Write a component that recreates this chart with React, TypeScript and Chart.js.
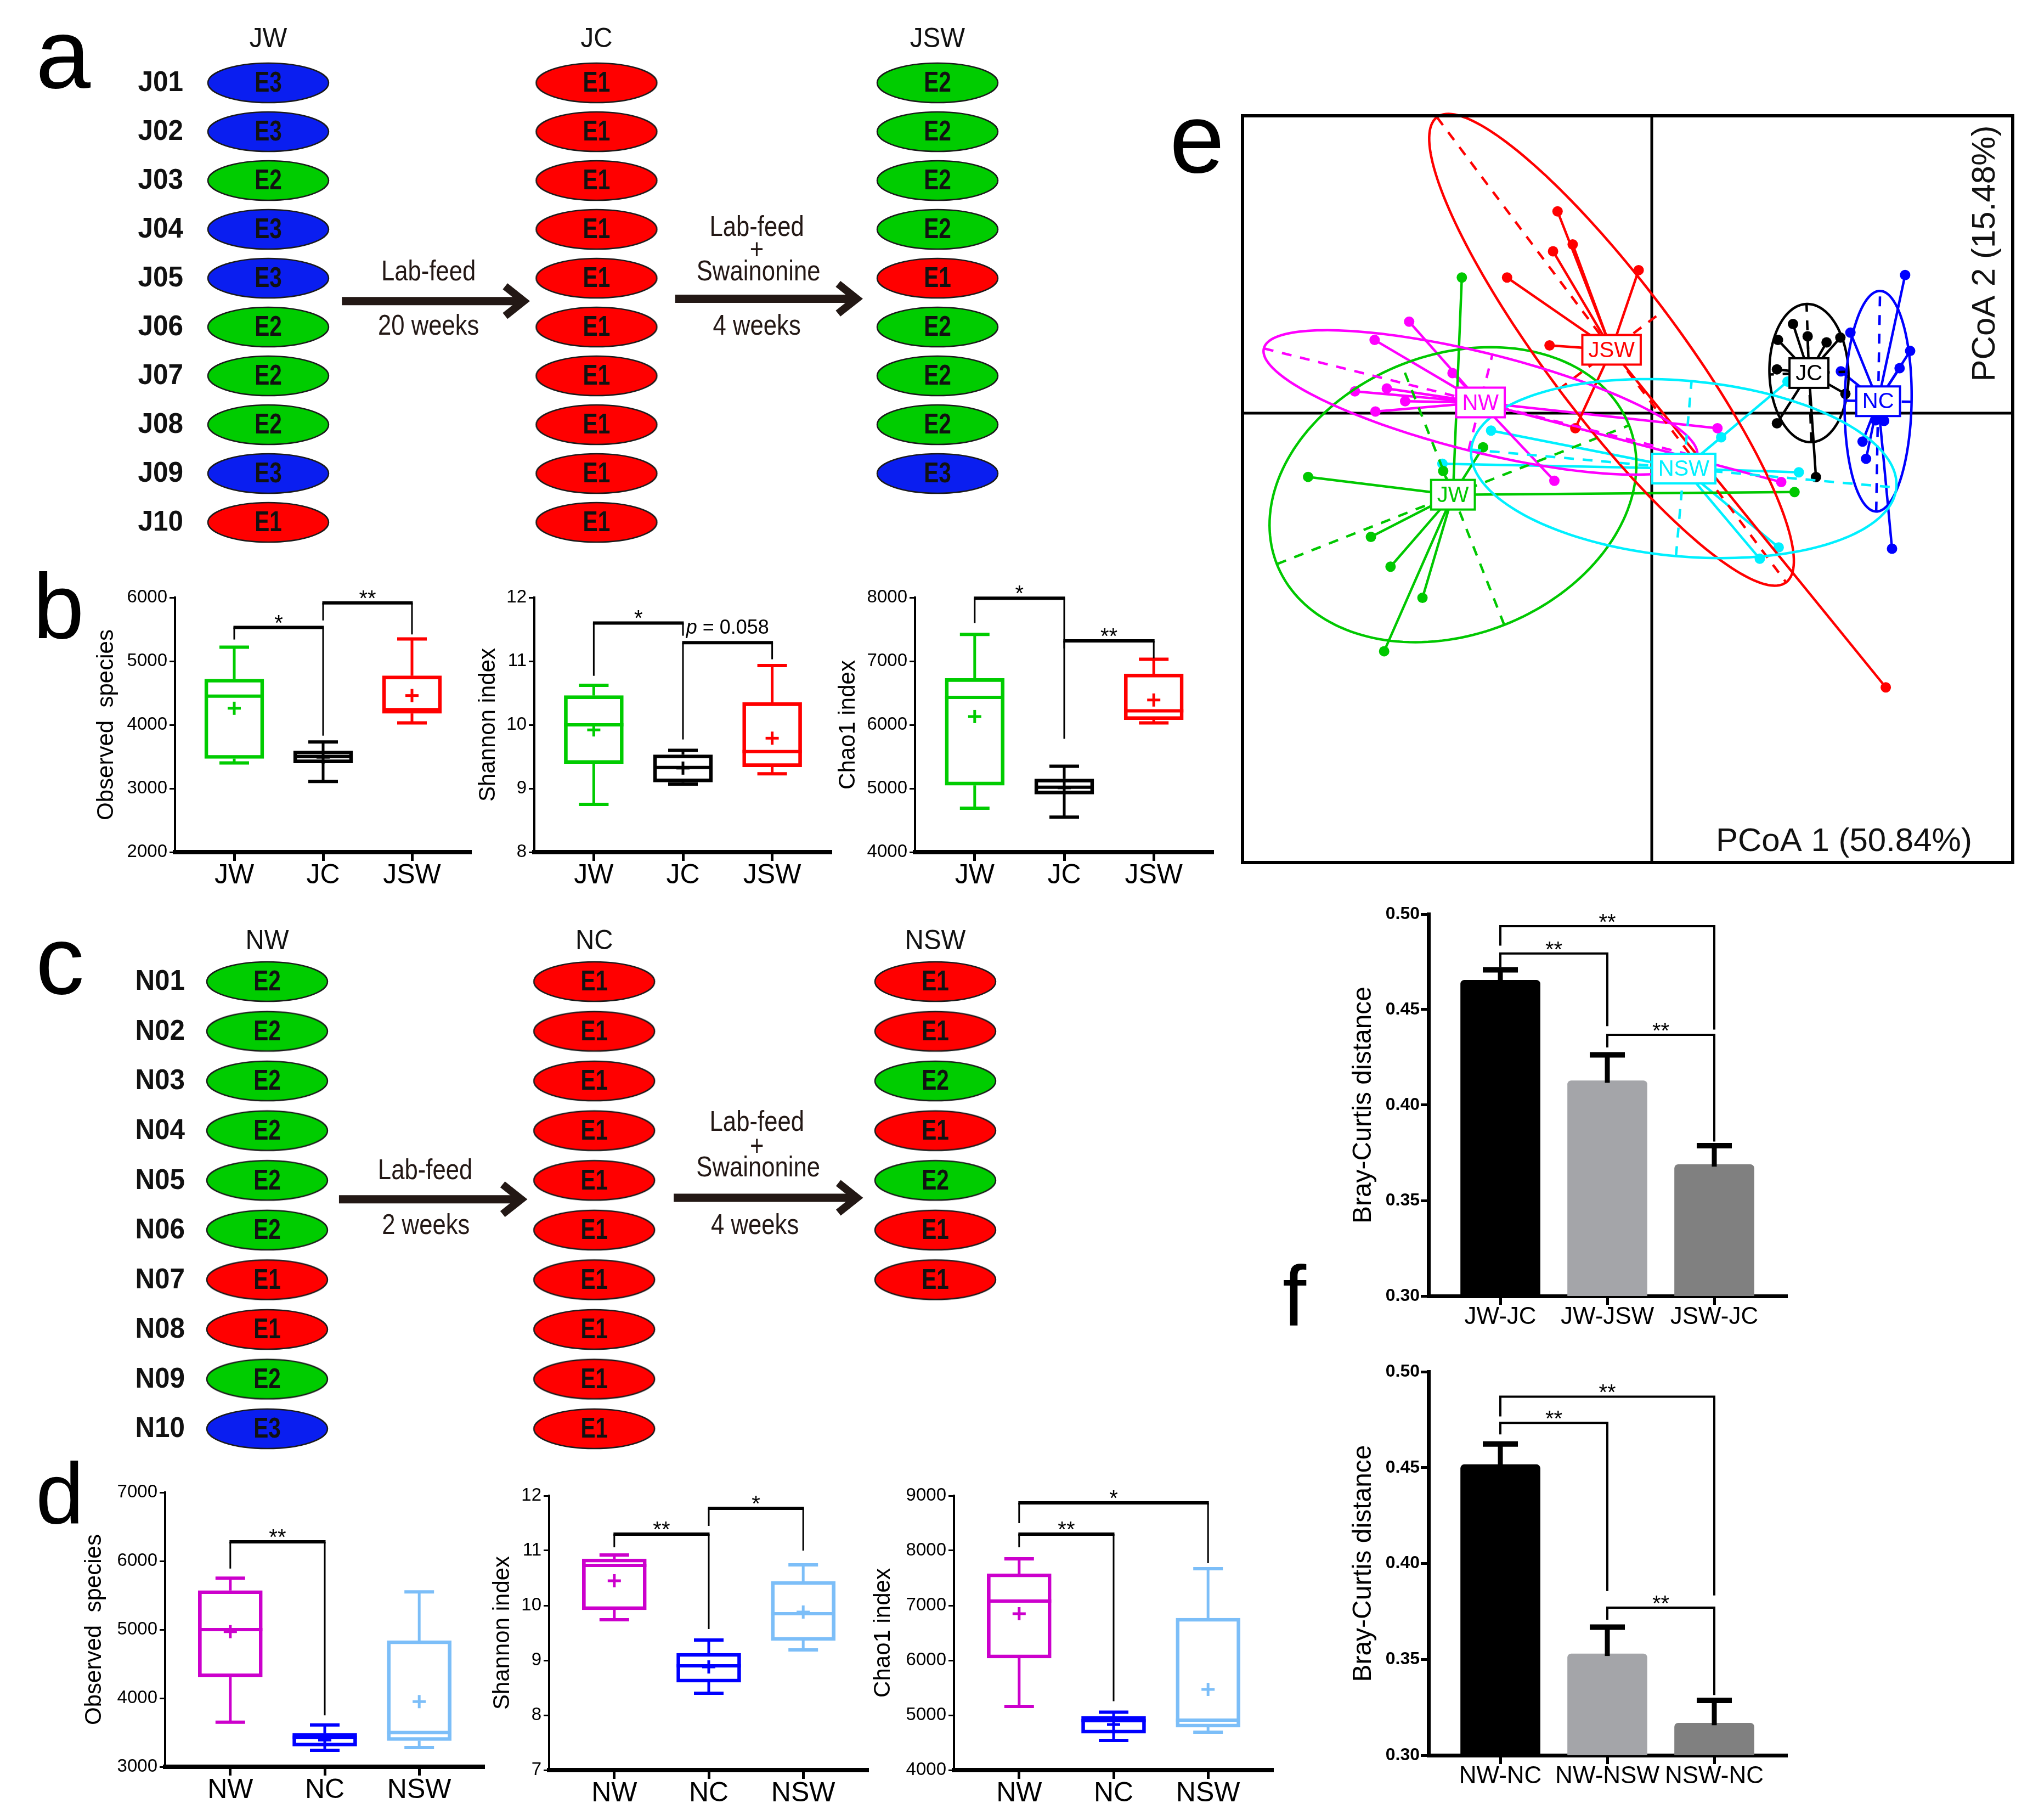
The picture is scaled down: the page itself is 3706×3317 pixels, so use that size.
import React, { useEffect, useRef } from 'react';
import { Chart, registerables } from 'chart.js';

Chart.register(...registerables);

const SANS = "'Liberation Sans', Arial, Helvetica, sans-serif";
const INK = '#231815';
Chart.defaults.font.family = SANS;

// ---------------- Panel a (enterotype diagram, J group) ----------------
const aColumns = ['JW', 'JC', 'JSW'];
const aRows = ['J01', 'J02', 'J03', 'J04', 'J05', 'J06', 'J07', 'J08', 'J09', 'J10'];
const aJW = ['E3', 'E3', 'E2', 'E3', 'E3', 'E2', 'E2', 'E2', 'E3', 'E1'];
const aJC = ['E1', 'E1', 'E1', 'E1', 'E1', 'E1', 'E1', 'E1', 'E1', 'E1'];
const aJSW = ['E2', 'E2', 'E2', 'E2', 'E1', 'E2', 'E2', 'E2', 'E3'];
const aArrowText1 = ['Lab-feed', '20 weeks'];
const aArrowText2 = ['Lab-feed', '+', 'Swainonine', '4 weeks'];

// ---------------- Panel c (enterotype diagram, N group) ----------------
const cColumns = ['NW', 'NC', 'NSW'];
const cRows = ['N01', 'N02', 'N03', 'N04', 'N05', 'N06', 'N07', 'N08', 'N09', 'N10'];
const cNW = ['E2', 'E2', 'E2', 'E2', 'E2', 'E2', 'E1', 'E1', 'E2', 'E3'];
const cNC = ['E1', 'E1', 'E1', 'E1', 'E1', 'E1', 'E1', 'E1', 'E1', 'E1'];
const cNSW = ['E1', 'E1', 'E2', 'E1', 'E2', 'E1', 'E1'];
const cArrowText1 = ['Lab-feed', '2 weeks'];
const cArrowText2 = ['Lab-feed', '+', 'Swainonine', '4 weeks'];

// ---------------- Panel b (box plots) ----------------
// each row: [lower whisker, Q1, median, Q3, upper whisker, mean]
const bGroups = ['JW', 'JC', 'JSW'];
const bObserved = [[3400, 3470, 4450, 4720, 5220, 4260], [3110, 3400, 3500, 3590, 3730, 3490], [4030, 4180, 4240, 4770, 5350, 4460]];
const bShannon = [[8.75, 9.39, 10.0, 10.46, 10.62, 9.92], [9.07, 9.10, 9.33, 9.53, 9.60, 9.32], [9.23, 9.34, 9.58, 10.35, 10.93, 9.79]];
const bChao1 = [[4690, 5050, 6430, 6730, 7420, 6130], [4550, 4910, 5020, 5150, 5350, 5010], [6030, 6080, 6220, 6800, 7030, 6390]];
const bObservedTicks = [2000, 3000, 4000, 5000, 6000];
const bShannonTicks = [8, 9, 10, 11, 12];
const bChao1Ticks = [4000, 5000, 6000, 7000, 8000];
// [group i, group j, bracket level, leg end i, leg end j, label]
const bObservedSig = [[0, 1, 5530, 5340, 3830, '*'], [1, 2, 5915, 5640, 5420, '**']];
const bShannonSig = [[0, 1, 11.60, 10.77, 11.40, '*'], [1, 2, 11.29, 9.77, 11.03, '']];
const bChao1Sig = [[0, 1, 7990, 7600, 5780, '*'], [1, 2, 7320, 7200, 7045, '**']];

// ---------------- Panel d (box plots) ----------------
const dGroups = ['NW', 'NC', 'NSW'];
const dObserved = [[3650, 4310, 5000, 5570, 5750, 4970], [3240, 3300, 3430, 3490, 3610, 3390], [3280, 3380, 3500, 4840, 5550, 3950]];
const dShannon = [[9.74, 9.92, 10.73, 10.85, 10.92, 10.45], [8.40, 8.60, 8.90, 9.13, 9.37, 8.88], [9.19, 9.36, 9.85, 10.44, 10.74, 9.88]];
const dChao1 = [[5160, 6040, 7080, 7580, 7850, 6850], [4540, 4670, 4900, 4980, 5055, 4830], [4690, 4780, 4910, 6770, 7670, 5470]];
const dObservedTicks = [3000, 4000, 5000, 6000, 7000];
const dShannonTicks = [7, 8, 9, 10, 11, 12];
const dChao1Ticks = [4000, 5000, 6000, 7000, 8000, 9000];
const dObservedSig = [[0, 1, 6280, 5890, 3750, '**']];
const dShannonSig = [[0, 1, 11.30, 11.06, 9.57, '**'], [1, 2, 11.77, 11.45, 11.00, '*']];
const dChao1Sig = [[0, 1, 8300, 8060, 5255, '**'], [0, 2, 8870, 8500, 7770, '*']];

// ---------------- Panel e (PCoA) ----------------
const eGroupNames = ['JW', 'JC', 'JSW', 'NW', 'NC', 'NSW'];
const ePtsJW = [[-0.2611, 0.1864], [-0.2319, -0.0469], [-0.2867, -0.0796], [-0.4724, -0.0876], [-0.3861, -0.1701], [-0.3591, -0.2109], [-0.3152, -0.2538], [-0.3679, -0.3272], [0.1963, -0.1084]];
const ePtsJC = [[0.1942, 0.1225], [0.2143, 0.1056], [0.1735, 0.1006], [0.2403, 0.0972], [0.2593, 0.1039], [0.1721, 0.0602], [0.1721, -0.0139], [0.2257, -0.0879], [0.2662, 0.0265]];
const ePtsJSW = [[-0.1295, 0.2773], [-0.1087, 0.2319], [-0.1357, 0.2225], [-0.1989, 0.1864], [-0.0180, 0.1965], [-0.1405, 0.0931], [-0.1051, -0.0207], [0.3217, -0.3768]];
const ePtsNW = [[-0.3335, 0.1258], [-0.3810, 0.1006], [-0.2739, 0.0551], [-0.4081, 0.0299], [-0.3642, 0.0339], [-0.3390, 0.0164], [-0.3799, 0.0023], [-0.1339, -0.0930], [0.0903, -0.0207], [0.1780, -0.0947]];
const ePtsNC = [[0.3483, 0.1898], [0.2731, 0.1106], [0.3552, 0.0855], [0.3407, 0.0618], [0.2600, 0.0575], [0.3195, -0.0106], [0.3078, -0.0098], [0.2898, -0.0391], [0.2946, -0.0627], [0.3303, -0.1863]];
const ePtsNSW = [[-0.2209, -0.0240], [-0.2878, -0.0695], [0.0954, -0.0332], [0.1866, 0.0434], [0.2022, -0.0812], [0.1745, -0.1845], [0.1485, -0.2001]];
const ePoints = [ePtsJW, ePtsJC, ePtsJSW, ePtsNW, ePtsNC, ePtsNSW];
const eCentroids = [[-0.2733, -0.1121], [0.2161, 0.0551], [-0.0553, 0.0871], [-0.2355, 0.0147], [0.3112, 0.0164], [0.0440, -0.0762]];
// [semi-major, semi-minor, angle in degrees]
const eEllipses = [[0.2602, 0.1923, 21.5], [0.0950, 0.0543, 92], [0.3997, 0.0905, -53.1], [0.3069, 0.0679, -14], [0.1516, 0.0460, 89], [0.2934, 0.1207, -5.1]];
const eAxisTitles = ['PCoA 1 (50.84%)', 'PCoA 2 (15.48%)'];

// ---------------- Panel f (bar charts) ----------------
const fTopLabels = ['JW-JC', 'JW-JSW', 'JSW-JC'];
const fTopMeans = [0.4654, 0.4128, 0.3689];
const fTopSem = [0.0054, 0.0135, 0.0098];
const fTopSig = [[0, 2, 0.4937, 0.4835, 0.4395, '**'], [0, 1, 0.4794, 0.4723, 0.4413, '**'], [1, 2, 0.4368, 0.4302, 0.3809, '**']];
const fBotLabels = ['NW-NC', 'NW-NSW', 'NSW-NC'];
const fBotMeans = [0.4516, 0.3529, 0.3168];
const fBotSem = [0.0107, 0.0139, 0.0118];
const fBotSig = [[0, 2, 0.4870, 0.4767, 0.3833, '**'], [0, 1, 0.4733, 0.4673, 0.3856, '**'], [1, 2, 0.3770, 0.3707, 0.3314, '**']];
const fTicks = [0.30, 0.35, 0.40, 0.45, 0.50];

// ---------------- styles ----------------
const typeColors: Record<string, string> = { E1: '#ff0000', E2: '#00cc00', E3: '#0a1ef0' };
const bColors = ['#00cc00', '#000000', '#ff0000'];
const dColors = ['#cc00cc', '#0000ff', '#7cbef8'];
const eColors = ['#00c800', '#000000', '#ff0000', '#ff00ff', '#0000ff', '#00f0ff'];
const fColors = ['#000000', '#a4a5a9', '#808080'];

function ellipseImage(fill: string): HTMLCanvasElement {
  const c = document.createElement('canvas');
  c.width = 226;
  c.height = 78;
  const g = c.getContext('2d')!;
  g.beginPath();
  g.ellipse(113, 39, 110, 36, 0, 0, Math.PI * 2);
  g.fillStyle = fill;
  g.fill();
  g.lineWidth = 2.5;
  g.strokeStyle = '#1a1a1a';
  g.stroke();
  return c;
}

function seg(ctx: CanvasRenderingContext2D, x1: number, y1: number, x2: number, y2: number) {
  ctx.beginPath();
  ctx.moveTo(x1, y1);
  ctx.lineTo(x2, y2);
  ctx.stroke();
}

function fillCondensed(ctx: CanvasRenderingContext2D, text: string, x: number, y: number, sx: number) {
  ctx.save();
  ctx.translate(x, y);
  ctx.scale(sx, 1);
  ctx.fillText(text, 0, 0);
  ctx.restore();
}

function drawLetter(ctx: CanvasRenderingContext2D, letter: any[]) {
  if (!letter) return;
  ctx.save();
  ctx.font = `${letter[3]}px ${SANS}`;
  ctx.fillStyle = '#000';
  ctx.textAlign = 'left';
  ctx.textBaseline = 'alphabetic';
  ctx.fillText(letter[0], letter[1], letter[2]);
  ctx.restore();
}

function diagramConfig(o: any) {
  const imgs: Record<string, HTMLCanvasElement> = {
    E1: ellipseImage(typeColors.E1),
    E2: ellipseImage(typeColors.E2),
    E3: ellipseImage(typeColors.E3),
  };
  return {
    type: 'scatter',
    data: {
      datasets: o.cols.map((col: string[], ci: number) => ({
        data: col.map((_: string, r: number) => ({ x: o.colPos[ci], y: r })),
        pointStyle: col.map((e: string) => imgs[e]),
        pointRadius: 30,
        clip: false,
      })),
    },
    options: {
      responsive: false,
      animation: false,
      devicePixelRatio: 1,
      events: [],
      layout: { autoPadding: false, padding: { left: o.L, top: o.T, right: o.cw - o.R, bottom: o.ch - o.B } },
      plugins: { legend: { display: false }, tooltip: { enabled: false } },
      scales: {
        x: { type: 'linear', min: 0, max: o.columns.length - 1, display: false },
        y: { type: 'linear', reverse: true, min: 0, max: o.rows.length - 1, display: false },
      },
    },
    plugins: [{
      id: 'diagramExtras',
      afterDatasetsDraw(chart: any) {
        const ctx: CanvasRenderingContext2D = chart.ctx;
        const xs = chart.scales.x;
        const ys = chart.scales.y;
        ctx.save();
        ctx.textBaseline = 'middle';
        // column headers
        ctx.fillStyle = '#111';
        ctx.textAlign = 'center';
        ctx.font = `50px ${SANS}`;
        o.columns.forEach((c: string, i: number) => fillCondensed(ctx, c, xs.getPixelForValue(o.colPos[i]), o.headerY, 0.95));
        // row labels
        ctx.textAlign = 'right';
        ctx.font = `bold 52px ${SANS}`;
        o.rows.forEach((r: string, i: number) => fillCondensed(ctx, r, o.rowRight, ys.getPixelForValue(i) + 1, 0.95));
        // type labels inside ellipses
        ctx.textAlign = 'center';
        ctx.font = `bold 52px ${SANS}`;
        o.cols.forEach((col: string[], ci: number) => {
          const meta = chart.getDatasetMeta(ci);
          col.forEach((e: string, r: number) => {
            const el = meta.data[r];
            fillCondensed(ctx, e, el.x, el.y + 2, 0.78);
          });
        });
        // arrows
        ctx.strokeStyle = INK;
        ctx.fillStyle = INK;
        o.arrows.forEach((a: number[]) => {
          const x1 = xs.getPixelForValue(a[0]);
          const x2 = xs.getPixelForValue(a[1]);
          const y = ys.getPixelForValue(a[2]);
          ctx.lineCap = 'butt';
          ctx.lineWidth = 15;
          seg(ctx, x1, y, x2 - 12, y);
          ctx.lineWidth = 14;
          ctx.lineJoin = 'miter';
          ctx.beginPath();
          ctx.moveTo(x2 - 44, y - 27);
          ctx.lineTo(x2 - 10, y);
          ctx.lineTo(x2 - 44, y + 27);
          ctx.stroke();
        });
        ctx.font = `52px ${SANS}`;
        o.texts.forEach((t: any[]) => {
          fillCondensed(ctx, t[0], xs.getPixelForValue(t[1]), ys.getPixelForValue(t[2]), 0.84);
        });
        ctx.restore();
        drawLetter(ctx, o.letter);
      },
    }],
  };
}

function boxConfig(o: any) {
  const tfs = 42;
  return {
    type: 'bar',
    data: {
      datasets: [{
        data: o.stats.map((s: number[], i: number) => ({ x: i + 1, y: [s[1], s[3]] })),
        backgroundColor: 'rgba(255,255,255,0)',
        borderColor: o.colors,
        borderWidth: 6,
        borderSkipped: false,
        barThickness: o.boxW,
      }],
    },
    options: {
      responsive: false,
      animation: false,
      devicePixelRatio: 1,
      events: [],
      layout: { autoPadding: false, padding: { left: 0, top: o.T, right: o.cw - o.R, bottom: 0 } },
      plugins: { legend: { display: false }, tooltip: { enabled: false } },
      scales: {
        x: {
          type: 'linear', offset: false, min: o.xMin, max: o.xMax,
          afterBuildTicks: (ax: any) => { ax.ticks = o.cats.map((_: string, i: number) => ({ value: i + 1 })); },
          afterFit: (s: any) => { s.height = o.ch - o.B; },
          ticks: { autoSkip: false, maxRotation: 0, padding: -3, color: '#000', font: { family: SANS, size: 50 }, callback: (v: number) => o.cats[Math.round(v) - 1] },
          grid: { offset: false, drawOnChartArea: false, tickLength: 16, tickWidth: 5, tickColor: '#000' },
          border: { display: true, color: '#000', width: 8 },
        },
        y: {
          type: 'linear', min: o.yMin, max: o.yMax,
          afterBuildTicks: (ax: any) => { ax.ticks = o.yTicks.map((v: number) => ({ value: v })); },
          afterFit: (s: any) => { s.width = o.L; },
          ticks: { padding: 4, color: '#000', font: { family: SANS, size: 33 }, callback: (v: number) => String(v) },
          grid: { drawOnChartArea: false, tickLength: 10, tickWidth: 3, tickColor: '#000' },
          border: { display: true, color: '#000', width: 4 },
          title: { display: true, text: o.title, color: '#000', font: { family: SANS, size: tfs }, padding: { top: o.titleCenter - tfs * 0.6, bottom: 0 } },
        },
      },
    },
    plugins: [{
      id: 'boxExtras',
      afterDatasetsDraw(chart: any) {
        const ctx: CanvasRenderingContext2D = chart.ctx;
        const xs = chart.scales.x;
        const ys = chart.scales.y;
        const X = (v: number) => xs.getPixelForValue(v);
        const Y = (v: number) => ys.getPixelForValue(v);
        ctx.save();
        ctx.lineCap = 'butt';
        o.stats.forEach((s: number[], i: number) => {
          const x = X(i + 1);
          ctx.strokeStyle = o.colors[i];
          ctx.lineWidth = 5;
          seg(ctx, x, Y(s[3]), x, Y(s[4]));
          seg(ctx, x, Y(s[1]), x, Y(s[0]));
          ctx.lineWidth = 6;
          seg(ctx, x - 27, Y(s[4]), x + 27, Y(s[4]));
          seg(ctx, x - 27, Y(s[0]), x + 27, Y(s[0]));
          seg(ctx, x - o.boxW / 2, Y(s[2]), x + o.boxW / 2, Y(s[2]));
          ctx.lineWidth = 5;
          const m = Y(s[5]);
          seg(ctx, x - 12, m, x + 12, m);
          seg(ctx, x, m - 12, x, m + 12);
        });
        ctx.strokeStyle = '#000';
        ctx.fillStyle = '#000';
        ctx.textAlign = 'center';
        ctx.textBaseline = 'alphabetic';
        o.sig.forEach((b: any[]) => {
          const xi = X(b[0] + 1);
          const xj = X(b[1] + 1);
          const yb = Y(b[2]);
          ctx.lineWidth = 3;
          seg(ctx, xi, yb, xi, Y(b[3]));
          seg(ctx, xj, yb, xj, Y(b[4]));
          ctx.lineWidth = 6;
          seg(ctx, xi - 1.5, yb, xj + 1.5, yb);
          if (b[5]) {
            ctx.font = `40px ${SANS}`;
            ctx.fillText(b[5], (xi + xj) / 2, yb + 5);
          }
        });
        if (o.note) {
          const n = o.note;
          ctx.font = `italic 36px ${SANS}`;
          const w1 = ctx.measureText(n.italic).width;
          ctx.font = `36px ${SANS}`;
          const w2 = ctx.measureText(n.text).width;
          const cx = X(n.x);
          const by = Y(n.y) - 16;
          ctx.textAlign = 'left';
          ctx.font = `italic 36px ${SANS}`;
          ctx.fillText(n.italic, cx - (w1 + w2) / 2, by);
          ctx.font = `36px ${SANS}`;
          ctx.fillText(n.text, cx - (w1 + w2) / 2 + w1, by);
        }
        ctx.restore();
        drawLetter(ctx, o.letter);
      },
    }],
  };
}

function pcoaConfig(o: any) {
  return {
    type: 'scatter',
    data: {
      datasets: eGroupNames.map((g, gi) => {
        const c = eCentroids[gi];
        const data: any[] = [];
        ePoints[gi].forEach((p) => {
          data.push({ x: c[0], y: c[1] });
          data.push({ x: p[0], y: p[1] });
        });
        return {
          label: g,
          data,
          showLine: true,
          borderColor: eColors[gi],
          borderWidth: 4.5,
          borderJoinStyle: 'round',
          pointRadius: data.map((_: any, k: number) => (k % 2 ? 9.5 : 0)),
          pointBackgroundColor: eColors[gi],
          pointBorderWidth: 0,
        };
      }),
    },
    options: {
      responsive: false,
      animation: false,
      devicePixelRatio: 1,
      events: [],
      layout: { autoPadding: false, padding: { left: o.L, top: o.T, right: o.cw - o.R, bottom: o.ch - o.B } },
      plugins: { legend: { display: false }, tooltip: { enabled: false } },
      scales: {
        x: { type: 'linear', min: -0.5626, max: 0.4962, display: false },
        y: { type: 'linear', min: -0.6176, max: 0.4087, display: false },
      },
    },
    plugins: [{
      id: 'pcoaExtras',
      beforeDatasetsDraw(chart: any) {
        const ctx: CanvasRenderingContext2D = chart.ctx;
        const a = chart.chartArea;
        const x0 = chart.scales.x.getPixelForValue(0);
        const y0 = chart.scales.y.getPixelForValue(0);
        ctx.save();
        ctx.strokeStyle = '#000';
        ctx.lineWidth = 5;
        seg(ctx, x0, a.top, x0, a.bottom);
        seg(ctx, a.left, y0, a.right, y0);
        ctx.restore();
      },
      afterDatasetsDraw(chart: any) {
        const ctx: CanvasRenderingContext2D = chart.ctx;
        const xs = chart.scales.x;
        const ys = chart.scales.y;
        const a = chart.chartArea;
        ctx.save();
        ctx.lineWidth = 4.5;
        eGroupNames.forEach((_, gi) => {
          const [ea, eb, ang] = eEllipses[gi];
          const th = (ang * Math.PI) / 180;
          const [cx, cy] = eCentroids[gi];
          const P = (u: number, v: number) => [
            xs.getPixelForValue(cx + u * Math.cos(th) - v * Math.sin(th)),
            ys.getPixelForValue(cy + u * Math.sin(th) + v * Math.cos(th)),
          ];
          ctx.strokeStyle = eColors[gi];
          ctx.setLineDash([]);
          ctx.beginPath();
          for (let k = 0; k <= 180; k++) {
            const t = (k / 180) * Math.PI * 2;
            const [px, py] = P(ea * Math.cos(t), eb * Math.sin(t));
            if (k === 0) ctx.moveTo(px, py); else ctx.lineTo(px, py);
          }
          ctx.closePath();
          ctx.stroke();
          ctx.setLineDash([18, 16]);
          let p1 = P(-ea, 0), p2 = P(ea, 0);
          seg(ctx, p1[0], p1[1], p2[0], p2[1]);
          p1 = P(0, -eb); p2 = P(0, eb);
          seg(ctx, p1[0], p1[1], p2[0], p2[1]);
          ctx.setLineDash([]);
        });
        ctx.font = `40px ${SANS}`;
        ctx.textAlign = 'center';
        ctx.textBaseline = 'middle';
        eGroupNames.forEach((g, gi) => {
          const px = xs.getPixelForValue(eCentroids[gi][0]);
          const py = ys.getPixelForValue(eCentroids[gi][1]);
          const w = ctx.measureText(g).width + 22;
          const h = 54;
          ctx.fillStyle = '#fff';
          ctx.fillRect(px - w / 2, py - h / 2, w, h);
          ctx.strokeStyle = eColors[gi];
          ctx.lineWidth = 4;
          ctx.strokeRect(px - w / 2, py - h / 2, w, h);
          ctx.fillStyle = eColors[gi];
          ctx.fillText(g, px, py + 2);
        });
        ctx.strokeStyle = '#000';
        ctx.lineWidth = 6;
        ctx.strokeRect(a.left, a.top, a.right - a.left, a.bottom - a.top);
        ctx.fillStyle = '#111';
        ctx.font = `60px ${SANS}`;
        ctx.textAlign = 'left';
        ctx.textBaseline = 'alphabetic';
        ctx.fillText(eAxisTitles[0], o.t1x, o.t1y);
        ctx.translate(o.t2x, o.t2y);
        ctx.rotate(-Math.PI / 2);
        ctx.textAlign = 'center';
        ctx.fillText(eAxisTitles[1], 0, 0);
        ctx.restore();
        drawLetter(ctx, o.letter);
      },
    }],
  };
}

function barConfig(o: any) {
  const tfs = 48;
  return {
    type: 'bar',
    data: {
      datasets: [{
        data: o.means.map((m: number, i: number) => ({ x: i + 1, y: m })),
        backgroundColor: fColors,
        borderWidth: 0,
        borderRadius: { topLeft: 7, topRight: 7, bottomLeft: 0, bottomRight: 0 },
        borderSkipped: false,
        barThickness: 145,
      }],
    },
    options: {
      responsive: false,
      animation: false,
      devicePixelRatio: 1,
      events: [],
      layout: { autoPadding: false, padding: { left: 0, top: o.T, right: o.cw - o.R, bottom: 0 } },
      plugins: { legend: { display: false }, tooltip: { enabled: false } },
      scales: {
        x: {
          type: 'linear', offset: false, min: 0.328, max: 3.682,
          afterBuildTicks: (ax: any) => { ax.ticks = o.labels.map((_: string, i: number) => ({ value: i + 1 })); },
          afterFit: (s: any) => { s.height = o.ch - o.B; },
          ticks: { autoSkip: false, maxRotation: 0, padding: -4, color: '#000', font: { family: SANS, size: 44 }, callback: (v: number) => o.labels[Math.round(v) - 1] },
          grid: { offset: false, drawOnChartArea: false, tickLength: 16, tickWidth: 5, tickColor: '#000' },
          border: { display: true, color: '#000', width: 7 },
        },
        y: {
          type: 'linear', min: 0.3, max: 0.5,
          afterBuildTicks: (ax: any) => { ax.ticks = fTicks.map((v: number) => ({ value: v })); },
          afterFit: (s: any) => { s.width = o.L; },
          ticks: { padding: 2, color: '#000', font: { family: SANS, size: 32, weight: 'bold' }, callback: (v: number) => v.toFixed(2) },
          grid: { drawOnChartArea: false, tickLength: 14, tickWidth: 5, tickColor: '#000' },
          border: { display: true, color: '#000', width: 7 },
          title: { display: true, text: 'Bray-Curtis distance', color: '#000', font: { family: SANS, size: tfs }, padding: { top: o.titleCenter - tfs * 0.6, bottom: 0 } },
        },
      },
    },
    plugins: [{
      id: 'barExtras',
      afterDatasetsDraw(chart: any) {
        const ctx: CanvasRenderingContext2D = chart.ctx;
        const xs = chart.scales.x;
        const ys = chart.scales.y;
        const X = (v: number) => xs.getPixelForValue(v);
        const Y = (v: number) => ys.getPixelForValue(v);
        ctx.save();
        ctx.strokeStyle = '#000';
        ctx.fillStyle = '#000';
        ctx.lineCap = 'butt';
        o.means.forEach((m: number, i: number) => {
          const x = X(i + 1);
          const top = Y(m + o.sem[i]);
          ctx.lineWidth = 9;
          seg(ctx, x, Y(m) + 4, x, top);
          ctx.lineWidth = 10;
          seg(ctx, x - 32, top, x + 32, top);
        });
        ctx.lineWidth = 4;
        ctx.lineJoin = 'miter';
        ctx.textAlign = 'center';
        ctx.textBaseline = 'alphabetic';
        ctx.font = `40px ${SANS}`;
        o.sig.forEach((b: any[]) => {
          const xi = X(b[0] + 1);
          const xj = X(b[1] + 1);
          const yb = Y(b[2]);
          ctx.beginPath();
          ctx.moveTo(xi, Y(b[3]));
          ctx.lineTo(xi, yb);
          ctx.lineTo(xj, yb);
          ctx.lineTo(xj, Y(b[4]));
          ctx.stroke();
          ctx.fillText(b[5], (xi + xj) / 2, yb + 6);
        });
        ctx.restore();
        drawLetter(ctx, o.letter);
      },
    }],
  };
}

function ChartCanvas({ left, top, width, height, make }: { left: number; top: number; width: number; height: number; make: () => any }) {
  const ref = useRef<HTMLCanvasElement | null>(null);
  useEffect(() => {
    const chart = new Chart(ref.current as HTMLCanvasElement, make());
    return () => chart.destroy();
  }, []);
  return (
    <canvas
      ref={ref}
      width={width}
      height={height}
      style={{ position: 'absolute', left, top, width, height, display: 'block' }}
    />
  );
}

export default function App() {
  return (
    <div style={{ position: 'absolute', left: 0, top: 0, width: 3706, height: 3317, background: '#fff', overflow: 'hidden' }}>
      {/* panel a */}
      <ChartCanvas left={0} top={0} width={1900} height={1010} make={() => diagramConfig({
        cw: 1900, ch: 1010, L: 489, R: 1709, T: 151, B: 952, headerY: 72, rowRight: 334, colPos: [0, 0.981, 2],
        columns: aColumns, rows: aRows, cols: [aJW, aJC, aJSW],
        arrows: [[0.22, 0.78, 4.47], [1.216, 1.775, 4.42]],
        texts: [[aArrowText1[0], 0.479, 3.88], [aArrowText1[1], 0.479, 5.0], [aArrowText2[0], 1.46, 2.97], [aArrowText2[1], 1.46, 3.45], [aArrowText2[2], 1.465, 3.88], [aArrowText2[3], 1.46, 5.0]],
        letter: ['a', 65, 160, 180],
      })} />
      {/* panel c */}
      <ChartCanvas left={0} top={1655} width={1900} height={1000} make={() => diagramConfig({
        cw: 1900, ch: 1000, L: 487, R: 1705, T: 134, B: 949, headerY: 61, rowRight: 337, colPos: [0, 0.979, 2],
        columns: cColumns, rows: cRows, cols: [cNW, cNC, cNSW],
        arrows: [[0.215, 0.777, 4.38], [1.217, 1.782, 4.35]],
        texts: [[cArrowText1[0], 0.473, 3.82], [cArrowText1[1], 0.475, 4.92], [cArrowText2[0], 1.466, 2.85], [cArrowText2[1], 1.466, 3.34], [cArrowText2[2], 1.47, 3.76], [cArrowText2[3], 1.46, 4.92]],
        letter: ['c', 65, 156, 177],
      })} />
      {/* panel b */}
      <ChartCanvas left={40} top={1020} width={840} height={640} make={() => boxConfig({
        cw: 840, ch: 640, L: 279, R: 819, T: 69, B: 533, xMin: 1 / 3, xMax: 11 / 3, boxW: 108,
        yMin: 2000, yMax: 6000, yTicks: bObservedTicks, title: 'Observed  species', titleCenter: 154,
        cats: bGroups, colors: bColors, stats: bObserved, sig: bObservedSig, letter: ['b', 20, 143, 168],
      })} />
      <ChartCanvas left={850} top={1020} width={700} height={640} make={() => boxConfig({
        cw: 700, ch: 640, L: 124, R: 666, T: 69, B: 533, xMin: 1 / 3, xMax: 11 / 3, boxW: 108,
        yMin: 8, yMax: 12, yTicks: bShannonTicks, title: 'Shannon index', titleCenter: 40,
        cats: bGroups, colors: bColors, stats: bShannon, sig: bShannonSig,
        note: { x: 2.5, y: 11.29, italic: 'p', text: ' = 0.058' },
      })} />
      <ChartCanvas left={1500} top={1020} width={740} height={640} make={() => boxConfig({
        cw: 740, ch: 640, L: 168, R: 712, T: 69, B: 533, xMin: 1 / 3, xMax: 11 / 3, boxW: 108,
        yMin: 4000, yMax: 8000, yTicks: bChao1Ticks, title: 'Chao1 index', titleCenter: 46,
        cats: bGroups, colors: bColors, stats: bChao1, sig: bChao1Sig,
      })} />
      {/* panel d */}
      <ChartCanvas left={40} top={2640} width={870} height={677} make={() => boxConfig({
        cw: 870, ch: 677, L: 261, R: 843, T: 80, B: 580, xMin: 0.31, xMax: 3.69, boxW: 117,
        yMin: 3000, yMax: 7000, yTicks: dObservedTicks, title: 'Observed  species', titleCenter: 132,
        cats: dGroups, colors: dColors, stats: dObserved, sig: dObservedSig, letter: ['d', 25, 136, 158],
      })} />
      <ChartCanvas left={850} top={2640} width={760} height={677} make={() => boxConfig({
        cw: 760, ch: 677, L: 151, R: 733, T: 86, B: 586, xMin: 0.31, xMax: 3.69, boxW: 117,
        yMin: 7, yMax: 12, yTicks: dShannonTicks, title: 'Shannon index', titleCenter: 66,
        cats: dGroups, colors: dColors, stats: dShannon, sig: dShannonSig,
      })} />
      <ChartCanvas left={1560} top={2640} width={800} height={677} make={() => boxConfig({
        cw: 800, ch: 677, L: 179, R: 761, T: 86, B: 586, xMin: 0.31, xMax: 3.69, boxW: 117,
        yMin: 4000, yMax: 9000, yTicks: dChao1Ticks, title: 'Chao1 index', titleCenter: 50,
        cats: dGroups, colors: dColors, stats: dChao1, sig: dChao1Sig,
      })} />
      {/* panel e */}
      <ChartCanvas left={2100} top={180} width={1606} height={1420} make={() => pcoaConfig({
        cw: 1606, ch: 1420, L: 165, R: 1569, T: 31, B: 1392,
        t1x: 1028, t1y: 1371, t2x: 1536, t2y: 282, letter: ['e', 32, 134, 180],
      })} />
      {/* panel f */}
      <ChartCanvas left={2300} top={1620} width={1000} height={830} make={() => barConfig({
        cw: 1000, ch: 830, L: 304, R: 958, T: 46, B: 742, titleCenter: 186,
        labels: fTopLabels, means: fTopMeans, sem: fTopSem, sig: fTopSig, letter: ['f', 38, 796, 155],
      })} />
      <ChartCanvas left={2300} top={2450} width={1000} height={867} make={() => barConfig({
        cw: 1000, ch: 867, L: 304, R: 958, T: 50, B: 749, titleCenter: 186,
        labels: fBotLabels, means: fBotMeans, sem: fBotSem, sig: fBotSig,
      })} />
    </div>
  );
}
